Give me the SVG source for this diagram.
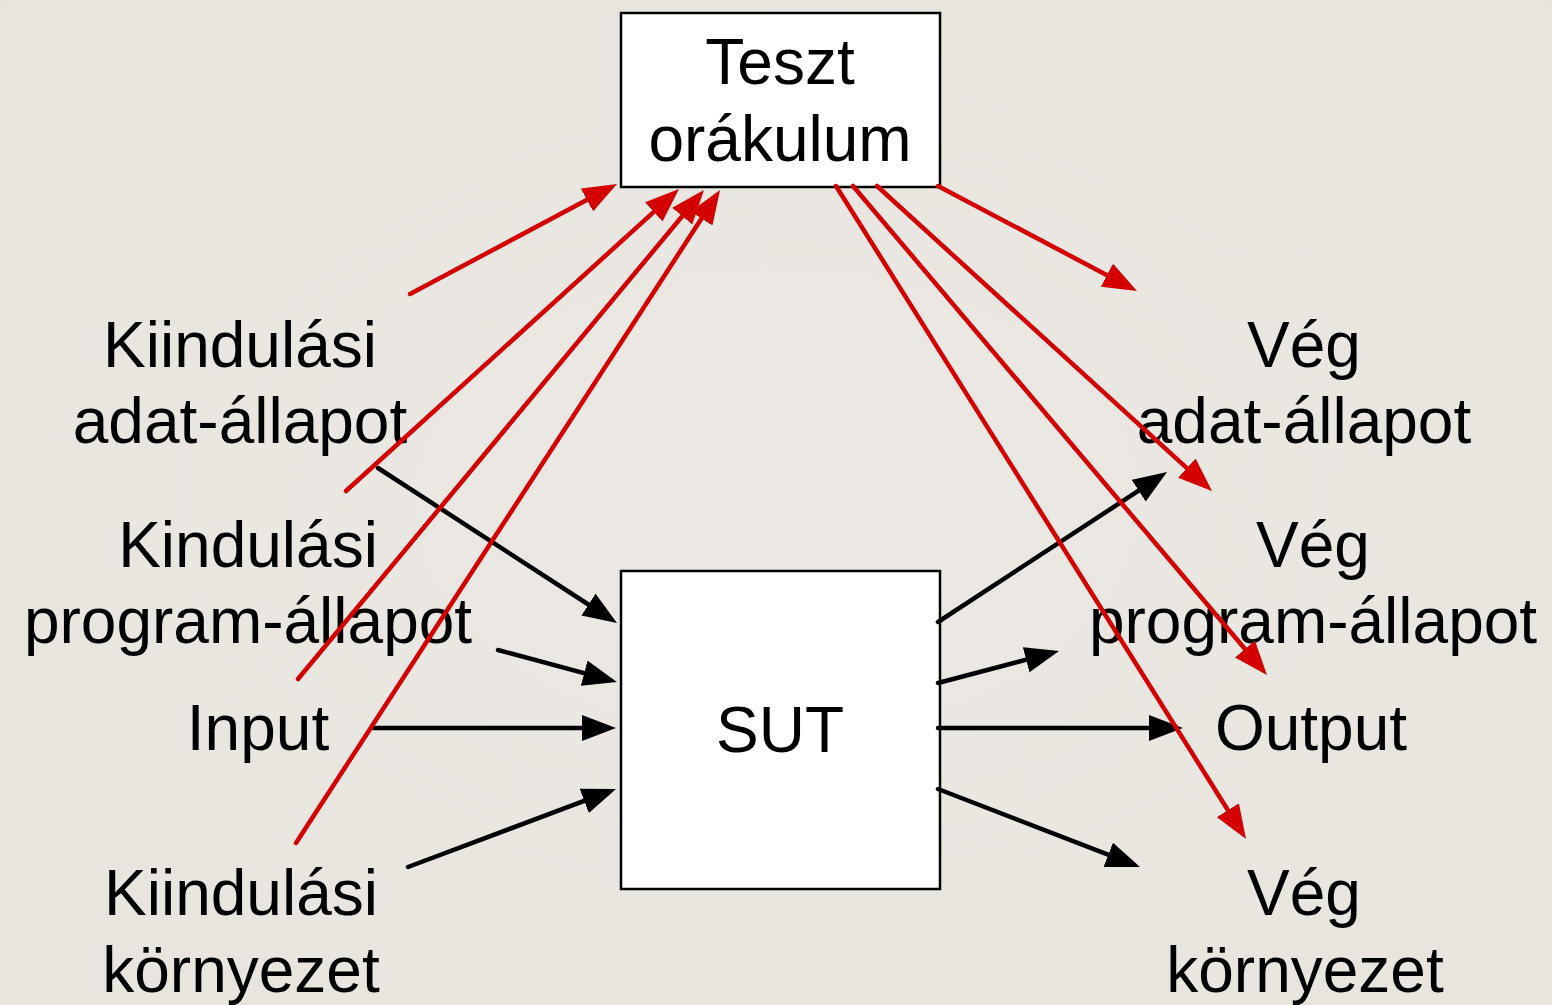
<svg xmlns="http://www.w3.org/2000/svg" width="1552" height="1005" viewBox="0 0 1552 1005">
  <defs>
    <marker id="ah-black" markerUnits="userSpaceOnUse" markerWidth="34" markerHeight="26" refX="22" refY="13" orient="auto">
      <path d="M0,0 L34,13 L0,26 z" fill="#000"/>
    </marker>
    <marker id="ah-red" markerUnits="userSpaceOnUse" markerWidth="34" markerHeight="26" refX="22" refY="13" orient="auto">
      <path d="M0,0 L34,13 L0,26 z" fill="#d40000"/>
    </marker>
    <radialGradient id="paper" cx="50%" cy="50%" r="75%">
      <stop offset="0" stop-color="#ece9e4"/>
      <stop offset="1" stop-color="#e7e4de"/>
    </radialGradient>
  </defs>
  <style>
    .box { fill: #fff; stroke: #000; stroke-width: 2.5; }
    .lbl { font-family: "Liberation Sans", Arial, Helvetica, sans-serif; font-size: 64px; fill: #000; text-anchor: middle; }
    .blk { stroke: #000; stroke-width: 4.5; fill: none; stroke-linecap: round; marker-end: url(#ah-black); }
    .red { stroke: #d40000; stroke-width: 4.5; fill: none; stroke-linecap: round; marker-end: url(#ah-red); }
  </style>

  <rect x="0" y="0" width="1552" height="1005" fill="url(#paper)"/>

  <!-- oracle -->
  <g id="oracle">
    <rect class="box" x="621" y="13" width="319" height="174"/>
    <text class="lbl" x="780" y="84">Teszt</text>
    <text class="lbl" x="780" y="161">orákulum</text>
  </g>

  <!-- system under test -->
  <g id="sut">
    <rect class="box" x="621" y="571" width="319" height="318"/>
    <text class="lbl" x="780" y="752">SUT</text>
  </g>

  <!-- inputs -->
  <g id="in-data">
    <text class="lbl" x="240" y="367">Kiindulási</text>
    <text class="lbl" x="240" y="443">adat-állapot</text>
  </g>
  <g id="in-program">
    <text class="lbl" x="248" y="567">Kindulási</text>
    <text class="lbl" x="248" y="643">program-állapot</text>
  </g>
  <g id="in-input">
    <text class="lbl" x="258" y="750">Input</text>
  </g>
  <g id="in-env">
    <text class="lbl" x="241" y="915">Kiindulási</text>
    <text class="lbl" x="241" y="992">környezet</text>
  </g>

  <!-- outputs -->
  <g id="out-data">
    <text class="lbl" x="1304" y="367">Vég</text>
    <text class="lbl" x="1304" y="443">adat-állapot</text>
  </g>
  <g id="out-program">
    <text class="lbl" x="1313" y="567">Vég</text>
    <text class="lbl" x="1313" y="643">program-állapot</text>
  </g>
  <g id="out-output">
    <text class="lbl" x="1311" y="750">Output</text>
  </g>
  <g id="out-env">
    <text class="lbl" x="1304" y="915">Vég</text>
    <text class="lbl" x="1305" y="992">környezet</text>
  </g>

  <!-- connectors -->
  <g id="connectors">
    <!-- into SUT -->
    <line class="blk" x1="378" y1="468" x2="606.9" y2="616.5"/>
    <line class="blk" x1="498" y1="650" x2="605.4" y2="678.9"/>
    <line class="blk" x1="373" y1="728" x2="604" y2="728"/>
    <line class="blk" x1="408" y1="867" x2="604.8" y2="793.2"/>
    <!-- out of SUT -->
    <line class="blk" x1="938" y1="622" x2="1157" y2="478.6"/>
    <line class="blk" x1="938" y1="683" x2="1047.4" y2="654.1"/>
    <line class="blk" x1="938" y1="728" x2="1171" y2="728"/>
    <line class="blk" x1="938" y1="789" x2="1128.8" y2="862.7"/>
    <!-- initial states to oracle -->
    <line class="red" x1="410" y1="294" x2="606.4" y2="189.6"/>
    <line class="red" x1="346" y1="491" x2="670.1" y2="197.1"/>
    <line class="red" x1="298" y1="679" x2="696.3" y2="199.2"/>
    <line class="red" x1="296" y1="843" x2="713.5" y2="200.1"/>
    <!-- oracle to final states -->
    <line class="red" x1="938" y1="186" x2="1126.4" y2="285.4"/>
    <line class="red" x1="877" y1="186" x2="1203.1" y2="482.9"/>
    <line class="red" x1="853" y1="186" x2="1259.2" y2="665.8"/>
    <line class="red" x1="836" y1="186" x2="1239.6" y2="828.8"/>
  </g>
</svg>
